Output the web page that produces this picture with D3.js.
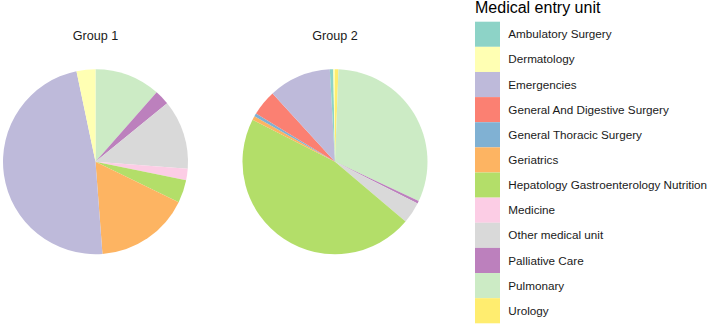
<!DOCTYPE html>
<html>
<head>
<meta charset="utf-8">
<script src="https://cdn.jsdelivr.net/npm/d3@7"></script>
<style>
  body { margin: 0; background: #fff; }
  text { font-family: "Liberation Sans", Arial, sans-serif; }
</style>
</head>
<body>
<svg id="chart" width="709" height="327"></svg>
<script>
// legend order (factor levels)
var categories = ["Ambulatory Surgery", "Dermatology", "Emergencies",
  "General And Digestive Surgery", "General Thoracic Surgery", "Geriatrics",
  "Hepatology Gastroenterology Nutrition", "Medicine", "Other medical unit",
  "Palliative Care", "Pulmonary", "Urology"];
var groups = ["Group 1", "Group 2"];
// share of patients (%) per unit, same order as categories
var group1 = [0, 3.3, 47.9, 0, 0, 16.6, 4.0, 2.0, 12.1, 2.6, 11.5, 0];
var group2 = [0.6, 0.3, 10.9, 4.5, 0.55, 0.67, 46.3, 0, 3.75, 0.45, 31.4, 0.6];
// clockwise from 12 o'clock
var stackOrder = ["Urology", "Pulmonary", "Palliative Care", "Other medical unit",
  "Medicine", "Hepatology Gastroenterology Nutrition", "Geriatrics",
  "General Thoracic Surgery", "General And Digestive Surgery", "Emergencies",
  "Ambulatory Surgery", "Dermatology"];

var svg = d3.select("#chart");
var radius = 92.5
  , cy = 161.7;

var color = d3.scaleOrdinal()
    .domain(categories)
    .range(d3.schemeSet3);

var x = d3.scalePoint()
    .domain(groups)
    .range([95.5, 335]);

var pie = d3.pie()
    .sort(null)
    .value(function(d){ return d.value; });

var arc = d3.arc()
    .innerRadius(0)
    .outerRadius(radius);

[group1, group2].forEach(function(vals, gi){
  var rows = stackOrder.map(function(c){
    return {cat: c, value: vals[categories.indexOf(c)]};
  });
  var g = svg.append("g")
      .attr("transform", "translate(" + x(groups[gi]) + "," + cy + ")");
  g.selectAll("path")
    .data(pie(rows).filter(function(d){ return d.value > 0; }))
    .enter().append("path")
      .attr("d", arc)
      .attr("fill", function(d){ return color(d.data.cat); });

  svg.append("text")
      .attr("x", x(groups[gi]))
      .attr("y", 39.5)
      .attr("text-anchor", "middle")
      .style("font-size", "12.6px")
      .style("fill", "#1a1a1a")
      .text(groups[gi]);
});

// legend
var legend = svg.append("g");
legend.append("text")
    .attr("x", 475)
    .attr("y", 13)
    .style("font-size", "16px")
    .style("fill", "#000")
    .text("Medical entry unit");

var row = d3.scaleBand()
    .domain(categories)
    .range([21.7, 323.3])
    .padding(0);

var item = legend.selectAll(".item")
    .data(categories)
    .enter().append("g")
    .attr("class", "item")
    .attr("transform", function(d){ return "translate(475," + row(d) + ")"; });

item.append("rect")
    .attr("width", 25)
    .attr("height", row.bandwidth())
    .attr("fill", function(d){ return color(d); });

item.append("text")
    .attr("x", 33.3)
    .attr("y", row.bandwidth() / 2)
    .attr("dy", "0.35em")
    .style("font-size", "11.7px")
    .style("fill", "#1a1a1a")
    .text(function(d){ return d; });
</script>
</body>
</html>
